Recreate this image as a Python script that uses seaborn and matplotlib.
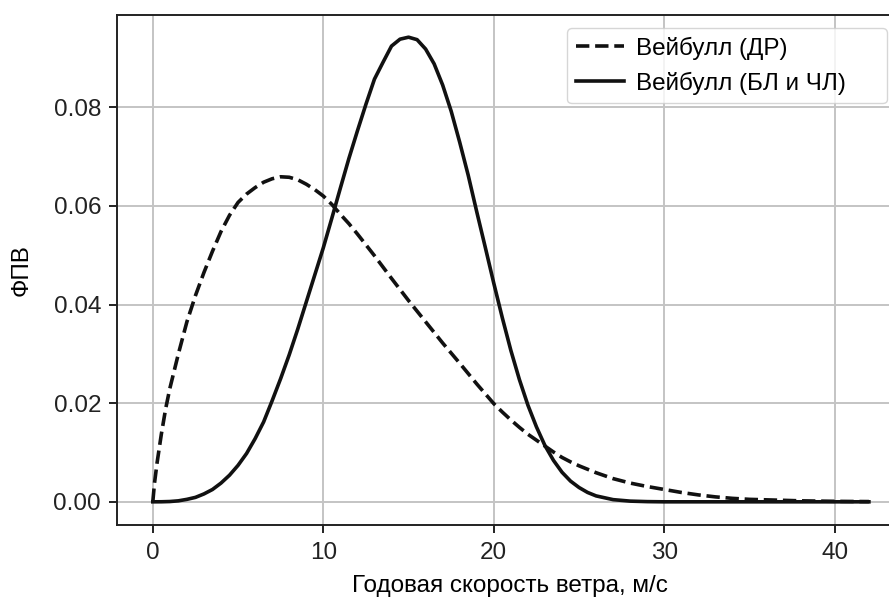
import pandas as pd
import seaborn as sns
import matplotlib
matplotlib.use("Agg")
import matplotlib.pyplot as plt

# --- Data ---
# Weibull (DR): dashed curve
speed_dr = [0, 0.1, 0.25, 0.5, 0.75, 1, 1.5, 2, 2.5, 3, 3.5, 4, 4.5, 5, 5.5, 6,
            6.5, 7, 7.5, 8, 8.5, 9, 9.5, 10, 10.5, 11, 11.5, 12, 13, 14, 15, 16,
            17, 18, 19, 20, 20.5, 21, 21.5, 22, 22.5, 23, 23.5, 24, 24.5, 25, 26,
            27, 28, 29, 30, 31, 32, 33, 34, 35, 36, 37, 38, 39, 40, 41, 42]
pdf_dr = [0.0, 0.0038, 0.0079, 0.0137, 0.0188, 0.023, 0.030, 0.0365, 0.0418,
          0.0465, 0.0508, 0.0548, 0.0581, 0.0607, 0.0624, 0.0637, 0.0648, 0.0655,
          0.0659, 0.0658, 0.0653, 0.0644, 0.0633, 0.0620, 0.0603, 0.0583, 0.0564,
          0.0543, 0.0499, 0.0453, 0.0408, 0.0365, 0.0322, 0.0281, 0.0239, 0.0199,
          0.0182, 0.0166, 0.0151, 0.0137, 0.0125, 0.0113, 0.0101, 0.0090, 0.0081,
          0.0073, 0.0059, 0.0047, 0.0038, 0.0031, 0.0025, 0.0019, 0.0014, 0.0010,
          0.0007, 0.0005, 0.0004, 0.0003, 0.0002, 0.00015, 0.0001, 0.00007,
          0.00005]

# Weibull (BL and CHL): solid curve
speed_bl = [0, 0.5, 1, 1.5, 2, 2.5, 3, 3.5, 4, 4.5, 5, 5.5, 6, 6.5, 7, 7.5, 8,
            8.5, 9, 9.5, 10, 10.5, 11, 11.5, 12, 12.5, 13, 13.5, 14, 14.5, 15,
            15.5, 16, 16.5, 17, 17.5, 18, 18.5, 19, 19.5, 20, 20.5, 21, 21.5, 22,
            22.5, 23, 23.5, 24, 24.5, 25, 25.5, 26, 27, 28, 29, 30, 32, 34, 36,
            38, 40, 42]
pdf_bl = [0.0, 0.00001, 0.00006, 0.0002, 0.0005, 0.0009, 0.0016, 0.0025, 0.0038,
          0.0054, 0.0074, 0.0098, 0.0128, 0.0162, 0.0205, 0.0250, 0.0298, 0.0350,
          0.0405, 0.0460, 0.0515, 0.0575, 0.0636, 0.0696, 0.0752, 0.0806, 0.0857,
          0.0891, 0.0924, 0.0938, 0.0942, 0.0937, 0.0918, 0.0888, 0.0845, 0.0792,
          0.0729, 0.0662, 0.0588, 0.0516, 0.0443, 0.0373, 0.0307, 0.0248, 0.0196,
          0.0152, 0.0114, 0.0084, 0.0060, 0.0042, 0.0029, 0.0019, 0.0012, 0.00044,
          0.00014, 0.00004, 0.0, 0.0, 0.0, 0.0, 0.0, 0.0, 0.0]

labels = ["Вейбулл (ДР)", "Вейбулл (БЛ и ЧЛ)"]

df_dr = pd.DataFrame({"speed": speed_dr, "pdf": pdf_dr})
df_bl = pd.DataFrame({"speed": speed_bl, "pdf": pdf_bl})

# --- Styling (matplotlib classic look, scaled up) ---
plt.rcParams.update({
    "font.size": 17.5,
    "axes.linewidth": 1.4,
    "axes.edgecolor": "#222222",
    "grid.linewidth": 1.4,
    "grid.color": "#c4c4c4",
    "xtick.major.size": 6,
    "ytick.major.size": 6,
    "xtick.major.width": 1.4,
    "ytick.major.width": 1.4,
    "xtick.major.pad": 6.5,
    "ytick.major.pad": 5.5,
    "xtick.color": "#222222",
    "ytick.color": "#222222",
})
plt.rcParams["font.family"] = ["Liberation Sans", "DejaVu Sans"]

fig = plt.figure(figsize=(8.89, 5.98), dpi=100)
ax = fig.add_axes([117 / 889, 73 / 598, (903 - 117) / 889, 510 / 598])

sns.lineplot(data=df_dr, x="speed", y="pdf", ax=ax, color="#111111",
             linestyle="--", linewidth=2.6, label=labels[0])
sns.lineplot(data=df_bl, x="speed", y="pdf", ax=ax, color="#111111",
             linewidth=2.6, label=labels[1])

ax.set_xlim(-2.1, 44.0)
ax.set_ylim(-0.0047, 0.0987)
ax.set_xticks([0, 10, 20, 30, 40])
ax.set_yticks([0.0, 0.02, 0.04, 0.06, 0.08])
ax.set_yticklabels(["0.00", "0.02", "0.04", "0.06", "0.08"])
ax.grid(True)
ax.set_xlabel("Годовая скорость ветра, м/с", labelpad=8)
ax.set_ylabel("ФПВ", labelpad=15)

# legend box spans roughly x 567..887 px, top at 28 px in the reference
ax.legend(loc="upper left", bbox_to_anchor=(450 / 786, 1 - 13 / 510, 320 / 786, 0.0),
          mode="expand", borderaxespad=0, borderpad=0.35, handletextpad=0.5)

fig.savefig("out.png", dpi=100)
